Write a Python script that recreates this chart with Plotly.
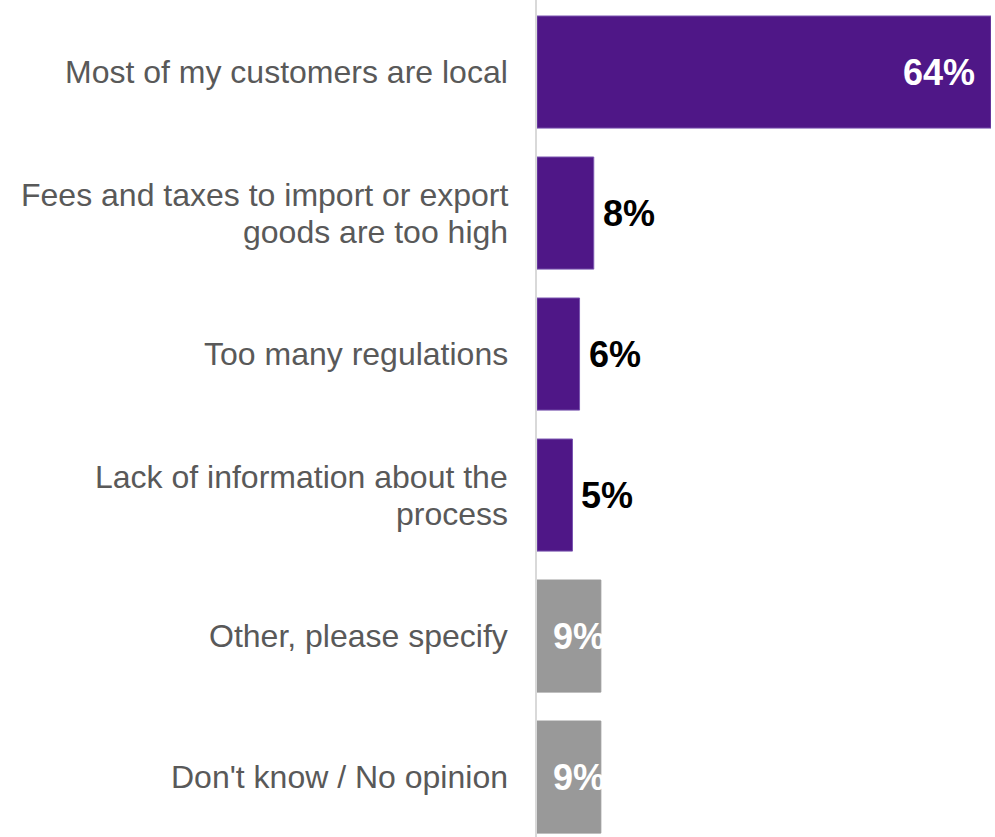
import plotly.graph_objects as go

# Survey responses: reasons for not trading across borders
categories = [
    "Most of my customers are local",
    "Fees and taxes to import or export goods are too high",
    "Too many regulations",
    "Lack of information about the process",
    "Other, please specify",
    "Don't know / No opinion",
]
# Category text broken onto display lines
label_lines = [
    ["Most of my customers are local"],
    ["Fees and taxes to import or export", "goods are too high"],
    ["Too many regulations"],
    ["Lack of information about the", "process"],
    ["Other, please specify"],
    ["Don't know / No opinion"],
]
values = [64, 8, 6, 5, 9, 9]
value_labels = ["64%", "8%", "6%", "5%", "9%", "9%"]

PURPLE = "#4F1787"
GREY = "#999999"
bar_colors = [PURPLE, PURPLE, PURPLE, PURPLE, GREY, GREY]
edge_colors = ["#7A55B0", "#7A55B0", "#7A55B0", "#7A55B0", GREY, GREY]

FONT = "Liberation Sans, Arial, sans-serif"

fig = go.Figure(
    go.Bar(
        x=values,
        y=categories,
        orientation="h",
        marker=dict(color=bar_colors, line=dict(color=edge_colors, width=1)),
        hoverinfo="skip",
    )
)

# Category labels, right-aligned left of the axis, with tight line spacing
LINE_GAP = 37
for cat, lines in zip(categories, label_lines):
    k = len(lines)
    for i, line in enumerate(lines):
        offset = ((k - 1) / 2 - i) * LINE_GAP
        fig.add_annotation(
            xref="paper", x=0, y=cat, text=line, showarrow=False,
            xanchor="right", yanchor="middle", xshift=-27, yshift=offset,
            font=dict(family=FONT, size=32, color="#595959"),
        )

# Value labels: inside (white) for long/grey bars, outside (black) for short purple bars
for cat, val, lab, col in zip(categories, values, value_labels, bar_colors):
    if val >= 20:
        ann = dict(xanchor="right", xshift=-14, font_color="white")
    elif col == GREY:
        ann = dict(xanchor="right", xshift=6, font_color="white")
    else:
        ann = dict(xanchor="left", xshift=7, font_color="black")
    fig.add_annotation(
        x=val, y=cat, text=lab, showarrow=False,
        xanchor=ann["xanchor"], xshift=ann["xshift"], yanchor="middle",
        font=dict(family=FONT, size=36, color=ann["font_color"], weight="bold"),
    )

n = len(categories)
fig.update_layout(
    width=995,
    height=837,
    margin=dict(l=537, r=4, t=0, b=0),
    paper_bgcolor="white",
    plot_bgcolor="white",
    bargap=0.205,
    showlegend=False,
    font=dict(family=FONT),
    xaxis=dict(range=[0, 64], visible=False, fixedrange=True),
    yaxis=dict(
        categoryorder="array",
        categoryarray=categories,
        range=[n - 0.575, -0.511],
        showline=True,
        linecolor="#D9D9D9",
        linewidth=2,
        showgrid=False,
        zeroline=False,
        ticks="",
        showticklabels=False,
        fixedrange=True,
    ),
)

fig.write_html("out.html")
